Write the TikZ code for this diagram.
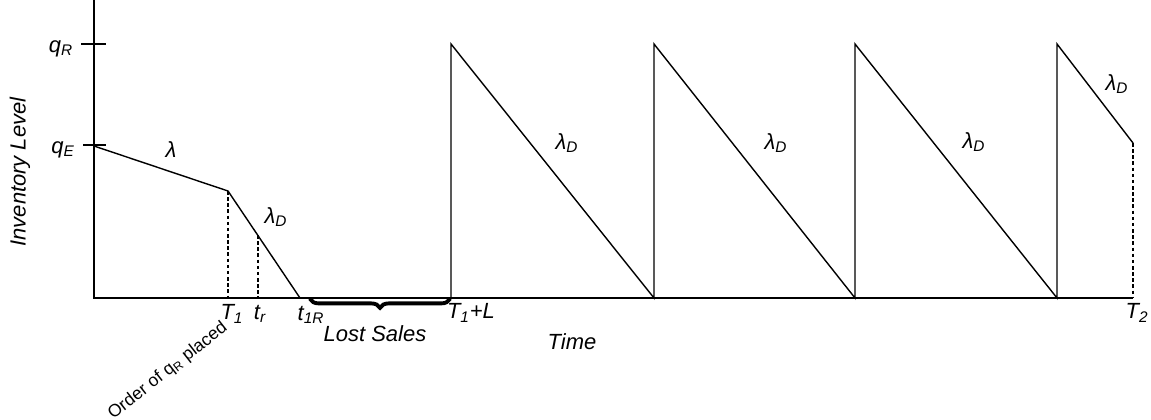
\documentclass[tikz,border=0pt]{standalone}
\usepackage{fontspec}
\setmainfont{Liberation Sans}
\usetikzlibrary{decorations.pathreplacing}
\newcommand{\lo}[1]{\textsubscript{#1}}

\begin{document}
\begin{tikzpicture}[
    x=0.02cm, y=-0.02cm,
    lbl/.style={font=\fontsize{12.5}{14}\selectfont\itshape, inner sep=1pt},
    axis/.style={line width=0.9pt},
    curve/.style={line width=0.8pt},
    guide/.style={dash pattern=on 2pt off 1.5pt, line width=0.7pt},
]
    \useasboundingbox (0,0) rectangle (1151,419);

    % Axes
    \coordinate (top) at (94,0);
    \coordinate (origin) at (94,298);
    \coordinate (xend) at (1133,298);
    \draw[axis] (top) -- (origin) -- (xend);
    \draw[axis] (81,44) -- (106,44);
    \draw[axis] (83,145) -- (106,145);

    % Curve points
    \coordinate (qE) at (94,146);
    \coordinate (T1top) at (228,191);
    \coordinate (T1) at (228,298);
    \coordinate (trtop) at (258,235);
    \coordinate (tr) at (258,298);
    \coordinate (t1R) at (300,298);
    \coordinate (A0) at (451,298);
    \coordinate (A1) at (451,44);
    \coordinate (B0) at (654,298);
    \coordinate (B1) at (654,44);
    \coordinate (C0) at (855,298);
    \coordinate (C1) at (855,44);
    \coordinate (D0) at (1057,298);
    \coordinate (D1) at (1057,44);
    \coordinate (T2top) at (1133,143);

    \draw[curve] (qE) -- (T1top) -- (t1R);
    \draw[curve] (A0) -- (A1) -- (B0) -- (B1) -- (C0) -- (C1) -- (D0) -- (D1) -- (T2top);
    \draw[guide] (T1top) -- (T1);
    \draw[guide] (trtop) -- (tr);
    \draw[guide] (T2top) -- (xend);

    % Lost sales brace
    \draw[line width=2.2pt, line cap=round, decorate, decoration={brace, mirror, amplitude=5pt}]
        (310,299) -- (450,299);

    % Axis labels
    \node[lbl] (qR) at (61,49) {q\lo{R}};
    \node[lbl] (qElbl) at (63,150) {q\lo{E}};
    \node[lbl, rotate=90] (ylbl) at (20,172) {Inventory Level};
    \node[lbl] (xlbl) at (572,342) {Time};

    % Rates
    \node[lbl] (lam) at (171,150) {λ};
    \node[lbl] (lamD0) at (276,217) {λ\lo{D}};
    \node[lbl] (lamD1) at (567,143) {λ\lo{D}};
    \node[lbl] (lamD2) at (776,143) {λ\lo{D}};
    \node[lbl] (lamD3) at (974,142) {λ\lo{D}};
    \node[lbl] (lamD4) at (1117,84) {λ\lo{D}};

    % Time marks
    \node[lbl] (T1lbl) at (232,314) {T\lo{1}};
    \node[lbl] (trlbl) at (260,314) {t\lo{r}};
    \node[lbl] (t1Rlbl) at (311,315) {t\lo{1R}};
    \node[lbl] (lost) at (375,334) {Lost Sales};
    \node[lbl] (T1L) at (471,313) {T\lo{1}+L};
    \node[lbl] (T2lbl) at (1137,313) {T\lo{2}};
    \node[font=\fontsize{10}{12}\selectfont, rotate=38, anchor=east, inner sep=1pt]
        (order) at (227,325) {Order of q\lo{R} placed};
\end{tikzpicture}
\end{document}
